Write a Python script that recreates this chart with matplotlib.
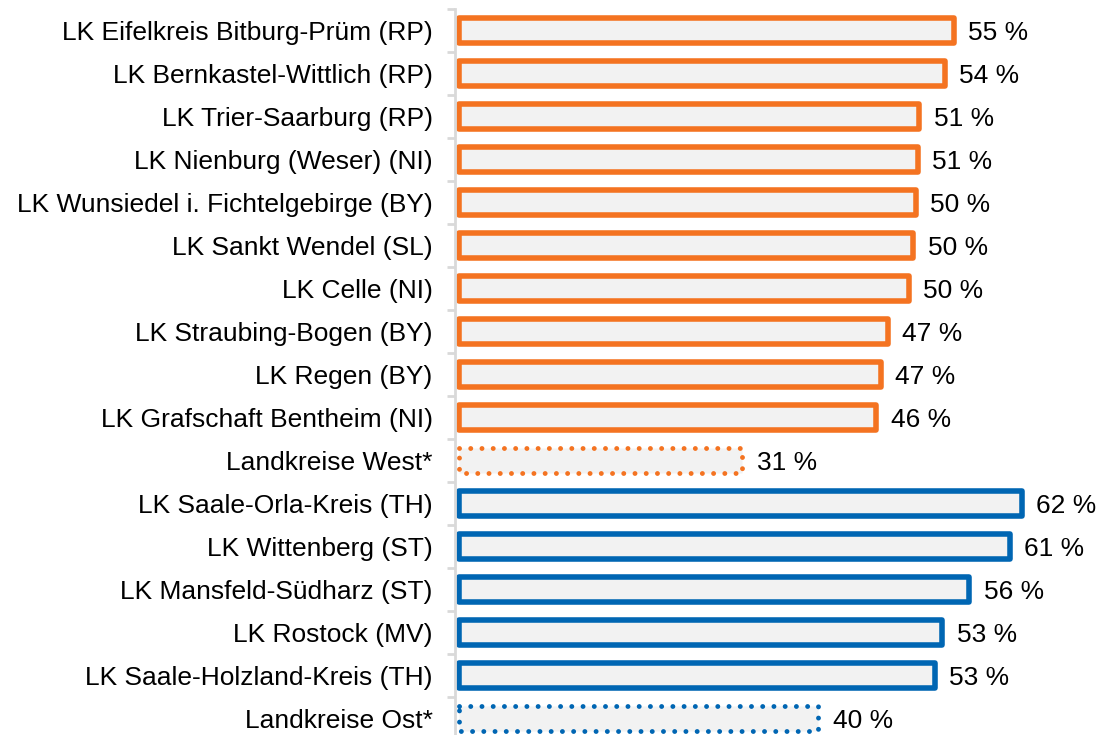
import matplotlib.pyplot as plt

# Landkreise, top to bottom
labels = [
    "LK Eifelkreis Bitburg-Prüm (RP)",
    "LK Bernkastel-Wittlich (RP)",
    "LK Trier-Saarburg (RP)",
    "LK Nienburg (Weser) (NI)",
    "LK Wunsiedel i. Fichtelgebirge (BY)",
    "LK Sankt Wendel (SL)",
    "LK Celle (NI)",
    "LK Straubing-Bogen (BY)",
    "LK Regen (BY)",
    "LK Grafschaft Bentheim (NI)",
    "Landkreise West*",
    "LK Saale-Orla-Kreis (TH)",
    "LK Wittenberg (ST)",
    "LK Mansfeld-Südharz (ST)",
    "LK Rostock (MV)",
    "LK Saale-Holzland-Kreis (TH)",
    "Landkreise Ost*",
]
values = [54.7, 53.7, 50.9, 50.7, 50.5, 50.2, 49.7, 47.4, 46.6, 46.1, 31.3,
          62.2, 60.9, 56.4, 53.4, 52.6, 39.7]
region = ["West"] * 11 + ["Ost"] * 6
is_mean = [False] * 10 + [True] + [False] * 5 + [True]

colors = {"West": "#F47321", "Ost": "#0066B3"}

plt.rcParams["font.family"] = ["Liberation Sans", "DejaVu Sans"]
fs = 19

fig = plt.figure(figsize=(11.04, 7.35), dpi=100)
ax = fig.add_axes([0.4121, -0.0068, 0.5879, 0.9946])

ypos = list(range(len(labels)))
for y, v, r, m in zip(ypos, values, region, is_mean):
    bar = ax.barh(y, v, height=0.57, color="#F2F2F2",
                  edgecolor=colors[r], linewidth=3.5 if m else 4)[0]
    if m:
        bar.set_linestyle((0, (0.01, 2.3)))
        bar.set_capstyle("round")
    else:
        bar.set_joinstyle("round")
    ax.text(v + 1.6, y, f"{round(v)} %", va="center_baseline", ha="left",
            fontsize=fs)

ax.set_xlim(-0.45, 71.3)
ax.set_ylim(len(labels) - 0.5, -0.5)

ax.set_yticks(ypos)
ax.set_yticklabels(labels)
ax.set_yticks([i - 0.5 for i in range(len(labels) + 1)], minor=True)
ax.tick_params(axis="y", which="major", length=0, pad=16, labelsize=fs)
ax.tick_params(axis="y", which="minor", length=6, width=2, color="#D9D9D9")
ax.set_xticks([])

for s in ["top", "right", "bottom"]:
    ax.spines[s].set_visible(False)
ax.spines["left"].set_color("#D9D9D9")
ax.spines["left"].set_linewidth(2)
ax.spines["left"].set_position(("data", -0.45))

fig.savefig("out.png", dpi=100)
